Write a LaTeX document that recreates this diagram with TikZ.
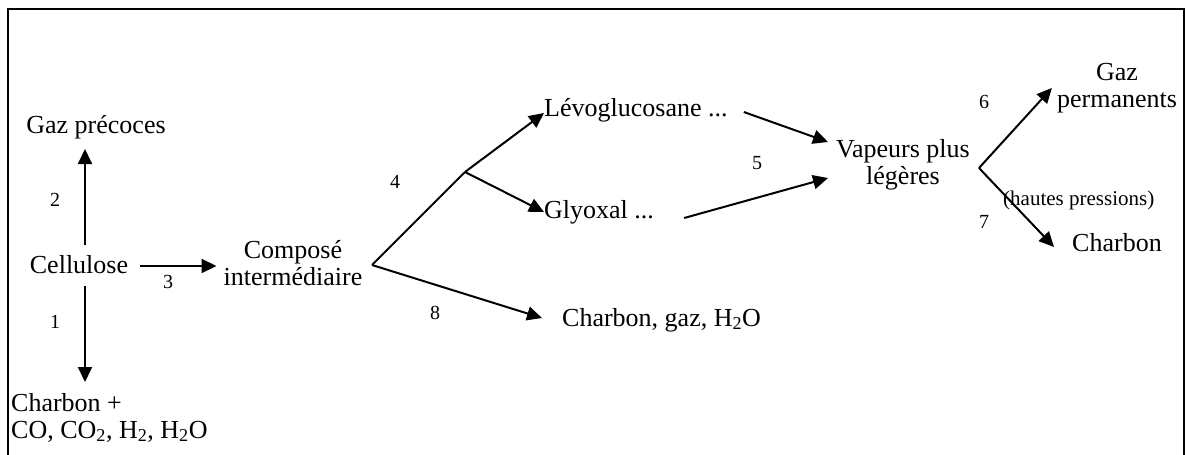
\documentclass[tikz,border=0pt]{standalone}
\usepackage{fontspec}
\setmainfont{Liberation Serif}
\usepackage{tikz}
\usetikzlibrary{calc,arrows.meta,positioning}
\tikzset{
  species/.style={inner sep=0pt, align=center, font=\fontsize{26}{27}\selectfont},
  leftspecies/.style={species, align=left},
  stepnum/.style={inner sep=0pt, font=\fontsize{20}{22}\selectfont},
  note/.style={inner sep=0pt, font=\fontsize{21}{22}\selectfont},
  arr/.style={-{Triangle[length=15pt,width=14pt]}, line width=2pt},
  branch/.style={line width=2pt},
  frameline/.style={draw=black, line width=1.3pt}
}

\begin{document}
\begin{tikzpicture}[x=1pt, y=-1pt]
  \useasboundingbox (0,0) rectangle (1187,455);
  \draw[frameline] (8,455) -- (8,9) -- (1184,9) -- (1184,455);

  \node[species] (gaz) at (96,127) {Gaz précoces};
  \node[species] (cell) at (79,265) {Cellulose};
  \node[leftspecies, anchor=north west] (charb) at (11,393)
    {Charbon +\\CO, CO\textsubscript{2}, H\textsubscript{2}, H\textsubscript{2}O};
  \node[species] (comp) at (293,263) {Composé\\intermédiaire};
  \node[species, anchor=west] (levo) at (544,110) {Lévoglucosane ...};
  \node[species, anchor=west] (glyo) at (544,212) {Glyoxal ...};
  \node[species, anchor=west] (charb8) at (562,320) {Charbon, gaz, H\textsubscript{2}O};
  \node[species] (vap) at (903,165) {Vapeurs plus\\légères};
  \node[species] (gazp) at (1117,88) {Gaz\\permanents};
  \node[species] (charb7) at (1117,243) {Charbon};
  \node[note, anchor=west] (hp) at (1003,200) {(hautes pressions)};

  \node[stepnum] (lab1) at (55,322) {1};
  \node[stepnum] (lab2) at (55,200) {2};
  \node[stepnum] (lab3) at (168,282) {3};
  \node[stepnum] (lab4) at (395,182) {4};
  \node[stepnum] (lab5) at (757,163) {5};
  \node[stepnum] (lab6) at (984,102) {6};
  \node[stepnum] (lab7) at (984,222) {7};
  \node[stepnum] (lab8) at (435,313) {8};

  \coordinate (b1) at (372,265);
  \coordinate (b2) at (465,172);
  \coordinate (b3) at (979,168);

  \draw[arr] ([xshift=6pt,yshift=11pt]cell.north) -- ([xshift=-11pt,yshift=-10pt]gaz.south);
  \draw[arr] ([xshift=6pt,yshift=-12pt]cell.south) -- ([xshift=74pt,yshift=11pt]charb.north west);
  \draw[arr] ([xshift=12pt,yshift=-1pt]cell.east) -- ([xshift=-7pt,yshift=-3pt]comp.west);
  \draw[branch] (b1) -- (b2);
  \draw[arr] (b2) -- ([yshift=-3pt]levo.west);
  \draw[arr] (b2) -- (glyo.west);
  \draw[arr] (b1) -- ([xshift=-20pt,yshift=2pt]charb8.west);
  \draw[arr] ([xshift=16pt,yshift=-2pt]levo.east) -- ([xshift=-8pt,yshift=23pt]vap.west);
  \draw[arr] ([xshift=30pt,yshift=-6pt]glyo.east) -- ([xshift=-8pt,yshift=-13pt]vap.west);
  \draw[arr] (b3) -- ([xshift=-5pt]gazp.west);
  \draw[arr] (b3) -- ([xshift=-18pt,yshift=-4pt]charb7.west);
\end{tikzpicture}
\end{document}
